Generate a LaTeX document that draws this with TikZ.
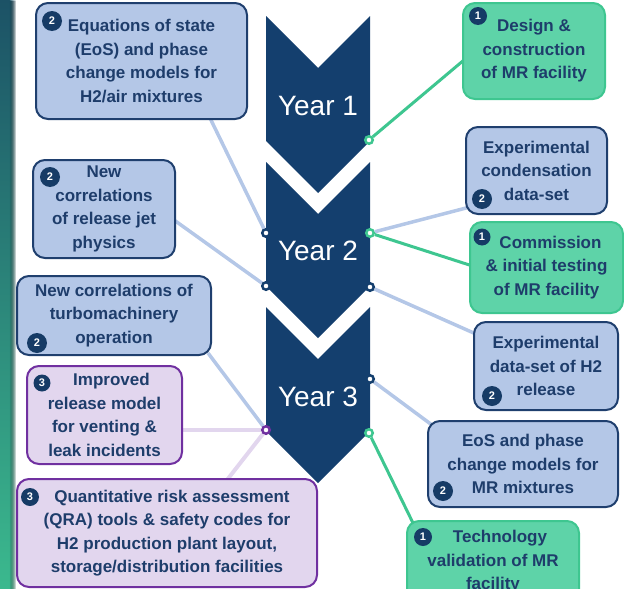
\documentclass[tikz,border=0pt]{standalone}
\usepackage{fontspec}
\setmainfont{Liberation Sans}
\usetikzlibrary{calc,fadings}

\definecolor{txt}{HTML}{1E3D6B}
\definecolor{chev}{HTML}{143F6E}
\definecolor{bluefill}{HTML}{B4C7E7}
\definecolor{bluedge}{HTML}{1F3F6E}
\definecolor{greenfill}{HTML}{5ED3A8}
\definecolor{greenedge}{HTML}{3EC690}
\definecolor{purplefill}{HTML}{E2D6EE}
\definecolor{purpledge}{HTML}{7030A0}
\definecolor{badgec}{HTML}{163B66}
\definecolor{stripetop}{HTML}{1C5266}
\definecolor{stripebot}{HTML}{3BB98E}

\pgfdeclarelayer{bg}
\pgfsetlayers{bg,main}

\begin{document}
\begin{tikzpicture}[x=1pt,y=-1pt,
  box/.style={rounded corners=12pt, line width=2pt, inner sep=0pt, align=center,
    text=txt, font=\bfseries\fontsize{17}{23.5}\selectfont},
  bluebox/.style={box, draw=bluedge, fill=bluefill},
  greenbox/.style={box, draw=greenedge, fill=greenfill},
  purplebox/.style={box, draw=purpledge, fill=purplefill},
  badge/.style={circle, fill=badgec, text=white, inner sep=0pt, minimum size=#1,
    font=\bfseries\fontsize{11}{11}\selectfont},
  badge/.default=20pt,
  dot/.style={circle, fill=white, line width=2.5pt, inner sep=0pt, minimum size=7.5pt},
  navydot/.style={dot, draw=chev},
  greendot/.style={dot, draw=greenedge},
  purpledot/.style={dot, draw=purpledge},
  chevron/.style={fill=chev},
  yeartext/.style={text=white, font=\fontsize{28}{28}\selectfont},
  bline/.style={line width=3.5pt, draw=bluefill},
  gline/.style={line width=3pt, draw=greenedge},
  pline/.style={line width=4pt, draw=purplefill}]

\useasboundingbox (0,0) rectangle (624,589);
\clip (0,0) rectangle (624,589);

% left edge band
\fill[top color=stripetop, bottom color=stripebot] (0,0) rectangle (9,589);
\fill[top color=stripetop, bottom color=stripebot, path fading=east] (9,0) rectangle (16,589);

% year chevrons
\fill[chevron] (266,16) -- (318,68) -- (370,16) -- (370,141) -- (318,193) -- (266,141) -- cycle;
\fill[chevron] (266,162) -- (318,214) -- (370,162) -- (370,286) -- (318,338) -- (266,286) -- cycle;
\fill[chevron] (266,307) -- (318,359) -- (370,307) -- (370,431) -- (318,483) -- (266,431) -- cycle;
\node[yeartext] (y1) at (318,106) {Year 1};
\node[yeartext] (y2) at (318,250.5) {Year 2};
\node[yeartext] (y3) at (318,397) {Year 3};

% left column
\node[bluebox, minimum width=211pt, minimum height=116pt] (eqs) at (141.5,61)
  {Equations of state\\(EoS) and phase\\change models for\\H2/air mixtures};
\node[bluebox, minimum width=142pt, minimum height=98pt] (jet) at (104,209)
  {New\\correlations\\of release jet\\physics};
\node[bluebox, minimum width=194pt, minimum height=79pt] (turbo) at (114,315.5)
  {New correlations of\\turbomachinery\\operation};
\node[purplebox, minimum width=155pt, minimum height=98pt] (vent) at (104.5,415)
  {\hspace*{14pt}Improved\\release model\\for venting \&\\leak incidents};
\node[purplebox, minimum width=300pt, minimum height=108pt] (qra) at (167,533)
  {\hspace*{10pt}Quantitative risk assessment\\(QRA) tools \& safety codes for\\H2 production plant layout,\\storage/distribution facilities};

% right column
\node[greenbox, minimum width=142pt, minimum height=96pt] (design) at (534,51)
  {Design \&\\construction\\of MR facility};
\node[bluebox, minimum width=141pt, minimum height=87pt] (cond) at (536.5,170.5)
  {Experimental\\condensation\\data-set};
\node[greenbox, minimum width=153pt, minimum height=91pt] (comm) at (546.5,267.5)
  {\hspace*{8pt}Commission\\\& initial testing\\of MR facility};
\node[bluebox, minimum width=144pt, minimum height=88pt] (h2) at (546,366)
  {Experimental\\data-set of H2\\release};
\node[bluebox, minimum width=190pt, minimum height=86pt] (eosmr) at (523,464)
  {EoS and phase\\change models for\\MR mixtures};
\node[greenbox, minimum width=172pt, minimum height=82pt] (tech) at (493,562)
  {\hspace*{14pt}Technology\\validation of MR\\facility};

% work-package badges
\node[badge] (b-eqs) at (52,21) {2};
\node[badge] (b-jet) at (50,177) {2};
\node[badge] (b-turbo) at (37,343) {2};
\node[badge=17pt] (b-vent) at (42,383) {3};
\node[badge=18pt] (b-qra) at (30,497) {3};
\node[badge=18pt] (b-design) at (478,16) {1};
\node[badge] (b-cond) at (482,199) {2};
\node[badge=17pt] (b-comm) at (482,237) {1};
\node[badge] (b-h2) at (492,396) {2};
\node[badge] (b-eosmr) at (443,491) {2};
\node[badge=18pt] (b-tech) at (423,537) {1};

% connection points on the chevrons
\node[greendot] (d1r) at (369,140) {};
\node[navydot] (d2lt) at (266,233) {};
\node[navydot] (d2lb) at (266,286) {};
\node[greendot] (d2rt) at (370,233) {};
\node[navydot] (d2rb) at (370,287) {};
\node[navydot] (d3rt) at (370,379) {};
\node[purpledot] (d3l) at (266,430) {};
\node[greendot] (d3rb) at (369,433) {};

% connectors
\begin{pgfonlayer}{bg}
  \draw[bline] (d2lt) -- ($(eqs.south)+(68.5,-2)$);
  \draw[bline] (d2lb) -- ($(jet.east)+(-2,11)$);
  \draw[bline] (d3l) -- ($(turbo.south east)+(-4,-3)$);
  \draw[pline] (d3l) -- ($(vent.east)+(-2,15)$);
  \draw[pline] (d3l) -- ($(qra.north)+(60,2)$);
  \draw[gline] (d1r) -- ($(design.west)+(2,9)$);
  \draw[bline] (d2rt) -- ($(cond.west)+(3,37)$);
  \draw[gline] (d2rt) -- ($(comm.west)+(2,-2)$);
  \draw[bline] (d2rb) -- ($(h2.west)+(3,-32)$);
  \draw[bline] (d3rt) -- ($(eosmr.north west)+(5,5)$);
  \draw[gline] (d3rb) -- ($(tech.north west)+(7,3)$);
\end{pgfonlayer}
\end{tikzpicture}
\end{document}
